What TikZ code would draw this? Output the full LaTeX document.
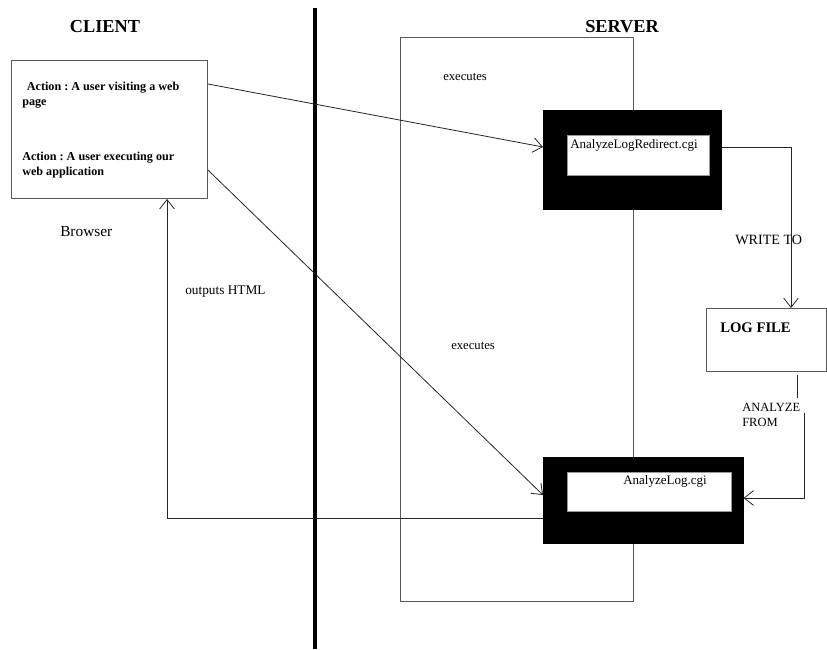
\documentclass[tikz,border=0pt]{standalone}
\usepackage{fontspec}
\setmainfont{Liberation Serif}
\usetikzlibrary{arrows.meta,calc}
\frenchspacing
\begin{document}
\begin{tikzpicture}[x=0.75pt,y=-0.75pt,
  box/.style={draw=black!65,line width=0.7pt,inner sep=0pt,anchor=north west},
  blk/.style={fill=black,draw=black,inner sep=0pt,anchor=north west},
  wht/.style={fill=white,draw=black!40,line width=0.4pt,inner sep=0pt,anchor=north west},
  conn/.style={draw=black!85,line width=0.6pt},
  arr/.style={conn,-{Straight Barb[length=7pt,width=11pt,line width=0.6pt]}},
  lbl/.style={inner sep=0pt,anchor=west,font=\fontsize{10}{12}\selectfont},
  ttl/.style={inner sep=0pt,font=\bfseries\fontsize{13.7}{15}\selectfont}]
\useasboundingbox[fill=white] (0,0) rectangle (827,649);
% divider
\coordinate (divtop) at (315,8);
\coordinate (divbot) at (315,649);
\draw[line width=3pt] (divtop) -- (divbot);
% titles
\node[ttl] (tclient) at (105,27) {CLIENT};
\node[ttl] (tserver) at (622,27) {SERVER};
% server box
\node[box,minimum width=174.75pt,minimum height=423pt] (server) at (400,37) {};
% client box
\node[box,minimum width=147pt,minimum height=103.5pt] (client) at (11,60) {};
\node[inner sep=0pt,anchor=north west,align=left,font=\bfseries\fontsize{9.1}{11.25}\selectfont] (act1) at (22,82) {\hspace{3.5pt}Action : A user visiting a web\\page};
\node[inner sep=0pt,anchor=north west,align=left,font=\bfseries\fontsize{9.1}{11.25}\selectfont] (act2) at (22,152) {Action : A user executing our\\web application};
\node[lbl,font=\fontsize{11.5}{13}\selectfont] (browser) at (60,232) {Browser};
% black boxes
\node[blk,minimum width=133.5pt,minimum height=74.25pt] (black1) at (543,110) {};
\node[wht,minimum width=106.5pt,minimum height=30pt] (white1) at (567,135) {};
\node[lbl,font=\fontsize{9.75}{11}\selectfont] (t1) at (570,145) {AnalyzeLogRedirect.cgi};
\node[blk,minimum width=150pt,minimum height=64.5pt] (black2) at (543,457) {};
\node[wht,minimum width=123pt,minimum height=29.25pt] (white2) at (567,472) {};
\node[lbl,font=\fontsize{9.75}{11}\selectfont] (t2) at (623,481) {AnalyzeLog.cgi};
% log file
\node[box,minimum width=90pt,minimum height=47.25pt] (logf) at (706,308) {};
\node[lbl,font=\bfseries\fontsize{11}{13}\selectfont] (tlog) at (720,328) {LOG FILE};
% labels
\node[lbl,font=\fontsize{9.5}{11}\selectfont] (ex1) at (443,77) {executes};
\node[lbl,font=\fontsize{9.5}{11}\selectfont] (ex2) at (451,346) {executes};
\node[lbl] (outh) at (185,292) {outputs HTML};
\node[lbl,font=\fontsize{10.6}{12}\selectfont] (wto) at (735,240) {WRITE TO};
\node[inner sep=0pt,anchor=north west,align=left,font=\fontsize{9.4}{11.25}\selectfont] (anf) at (742,403) {ANALYZE\\FROM};
% connectors
\draw[arr] ($(client.north east)+(0,24)$) -- ($(black1.north west)+(0,37)$);
\draw[arr] ($(client.north east)+(0,110)$) -- ($(black2.north west)+(0,38)$);
\draw[arr] ($(black1.north east)+(0,37)$) -| ($(logf.north west)+(85,0)$);
\coordinate (af1) at (797,398);
\coordinate (af2) at (804,413);
\draw[conn] ($(logf.south west)+(91,3)$) -- (af1);
\draw[arr] (af2) |- ($(black2.north east)+(0,41)$);
\draw[arr] ($(black2.north west)+(0,61)$) -| ($(client.south west)+(156,0)$);
\end{tikzpicture}
\end{document}
